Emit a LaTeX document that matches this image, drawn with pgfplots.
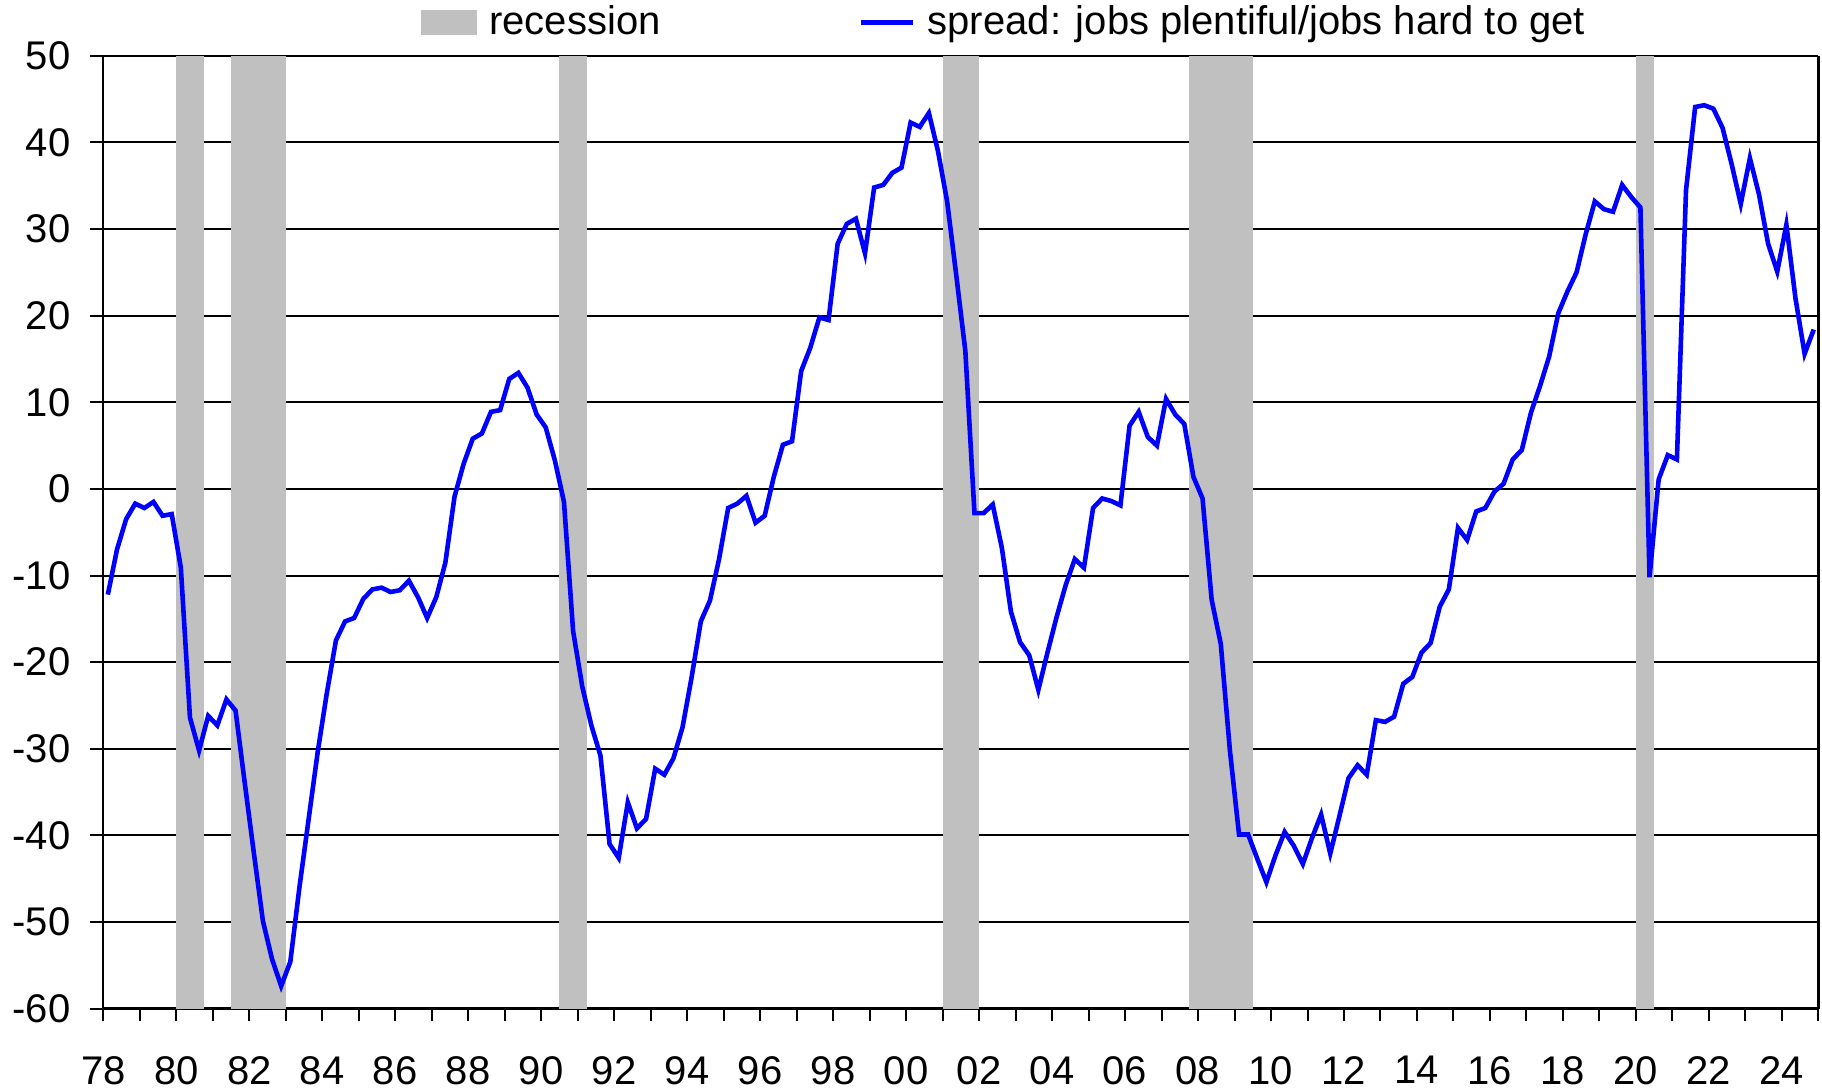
\documentclass[border=0pt]{standalone}
\usepackage{fontspec}
\setmainfont{Liberation Sans}
\usepackage{pgfplots}
\pgfplotsset{compat=1.18}
\definecolor{rec}{RGB}{192,192,192}
\begin{document}
\begin{tikzpicture}
\begin{axis}[
  name=ax,
  scale only axis,
  width=428.75pt, height=238.175pt,
  xmin=1978, xmax=2025, ymin=-60, ymax=50,
  axis x line*=bottom, axis y line*=box,
  ytick pos=left,
  tick align=outside,
  xtick={1978,1980,...,2024},
  xticklabels={78,80,82,84,86,88,90,92,94,96,98,00,02,04,06,08,10,12,14,16,18,20,22,24},
  minor xtick={1979,1981,...,2025},
  ytick={-60,-50,...,50},
  yticklabels={-60,-50,-40,-30,-20,-10,0,10,20,30,40,50},
  major tick length=3.2pt, minor tick length=3.2pt,
  ymajorgrids,
  grid style={black, line width=0.5pt},
  axis line style={black, line width=0.6pt},
  tick style={black, line width=0.5pt},
  ticklabel style={font=\fontsize{10}{12}\selectfont},
  xticklabel style={yshift=-5.2pt},
  yticklabel style={xshift=-1.5pt},
  legend columns=2,
  legend style={at={(0.185,1.035)}, anchor=west, draw=none, fill=none,
    inner sep=0pt, font=\fontsize{10}{12}\selectfont,
    nodes={inner sep=0pt},
    /tikz/every odd column/.append style={column sep=3pt},
    /tikz/every even column/.append style={column sep=49.5pt}},
]
\addplot[fill=rec, draw=none, area legend,
  legend image code/.code={\fill[rec] (0pt,-3.05pt) rectangle (14pt,3.05pt);}]
  coordinates {(1980,-60) (1980,50) (1980.75,50) (1980.75,-60)};
\addlegendentry{recession}
\addplot[fill=rec, draw=none, forget plot] coordinates {(1981.5,-60) (1981.5,50) (1983,50) (1983,-60)};
\addplot[fill=rec, draw=none, forget plot] coordinates {(1990.5,-60) (1990.5,50) (1991.25,50) (1991.25,-60)};
\addplot[fill=rec, draw=none, forget plot] coordinates {(2001,-60) (2001,50) (2002,50) (2002,-60)};
\addplot[fill=rec, draw=none, forget plot] coordinates {(2007.75,-60) (2007.75,50) (2009.5,50) (2009.5,-60)};
\addplot[fill=rec, draw=none, forget plot] coordinates {(2020,-60) (2020,50) (2020.5,50) (2020.5,-60)};
\addplot[color={rgb,255:red,0;green,0;blue,255}, line width=1.15pt,
  legend image code/.code={\draw[color={rgb,255:red,0;green,0;blue,255}, line width=1.3pt] (0pt,0pt) -- (13pt,0pt);}]
  table[x=x, y=y] {
x y
1978.125 -12.2
1978.375 -7.0
1978.625 -3.5
1978.875 -1.7
1979.125 -2.2
1979.375 -1.5
1979.625 -3.1
1979.875 -2.9
1980.125 -9.1
1980.375 -26.4
1980.625 -30.2
1980.875 -26.2
1981.125 -27.3
1981.375 -24.3
1981.625 -25.6
1981.875 -33.9
1982.125 -42.0
1982.375 -49.9
1982.625 -54.3
1982.875 -57.4
1983.125 -54.6
1983.375 -46.0
1983.625 -38.2
1983.875 -30.4
1984.125 -23.6
1984.375 -17.5
1984.625 -15.3
1984.875 -14.9
1985.125 -12.7
1985.375 -11.6
1985.625 -11.4
1985.875 -11.9
1986.125 -11.7
1986.375 -10.6
1986.625 -12.5
1986.875 -14.9
1987.125 -12.5
1987.375 -8.5
1987.625 -0.9
1987.875 2.9
1988.125 5.8
1988.375 6.4
1988.625 8.9
1988.875 9.1
1989.125 12.7
1989.375 13.4
1989.625 11.7
1989.875 8.6
1990.125 7.1
1990.375 3.3
1990.625 -1.5
1990.875 -16.4
1991.125 -22.8
1991.375 -27.3
1991.625 -30.8
1991.875 -41.0
1992.125 -42.6
1992.375 -36.2
1992.625 -39.2
1992.875 -38.1
1993.125 -32.3
1993.375 -33.0
1993.625 -31.1
1993.875 -27.5
1994.125 -21.7
1994.375 -15.3
1994.625 -12.9
1994.875 -8.1
1995.125 -2.2
1995.375 -1.7
1995.625 -0.8
1995.875 -3.9
1996.125 -3.1
1996.375 1.4
1996.625 5.1
1996.875 5.5
1997.125 13.6
1997.375 16.3
1997.625 19.8
1997.875 19.5
1998.125 28.3
1998.375 30.6
1998.625 31.2
1998.875 27.2
1999.125 34.8
1999.375 35.1
1999.625 36.5
1999.875 37.1
2000.125 42.3
2000.375 41.8
2000.625 43.4
2000.875 39.0
2001.125 33.2
2001.375 24.7
2001.625 15.9
2001.875 -2.8
2002.125 -2.8
2002.375 -1.8
2002.625 -6.8
2002.875 -14.2
2003.125 -17.7
2003.375 -19.2
2003.625 -23.2
2003.875 -18.9
2004.125 -14.8
2004.375 -11.1
2004.625 -8.1
2004.875 -9.1
2005.125 -2.2
2005.375 -1.1
2005.625 -1.4
2005.875 -1.9
2006.125 7.3
2006.375 8.9
2006.625 6.0
2006.875 5.0
2007.125 10.4
2007.375 8.6
2007.625 7.5
2007.875 1.4
2008.125 -1.1
2008.375 -12.8
2008.625 -17.9
2008.875 -30.2
2009.125 -39.9
2009.375 -39.9
2009.625 -42.7
2009.875 -45.4
2010.125 -42.3
2010.375 -39.6
2010.625 -41.2
2010.875 -43.3
2011.125 -40.3
2011.375 -37.6
2011.625 -42.1
2011.875 -37.8
2012.125 -33.4
2012.375 -31.9
2012.625 -33.0
2012.875 -26.7
2013.125 -26.9
2013.375 -26.3
2013.625 -22.5
2013.875 -21.7
2014.125 -18.9
2014.375 -17.8
2014.625 -13.6
2014.875 -11.6
2015.125 -4.5
2015.375 -5.9
2015.625 -2.6
2015.875 -2.2
2016.125 -0.3
2016.375 0.6
2016.625 3.4
2016.875 4.5
2017.125 8.8
2017.375 11.9
2017.625 15.3
2017.875 20.3
2018.125 22.8
2018.375 25.0
2018.625 29.4
2018.875 33.2
2019.125 32.3
2019.375 32.0
2019.625 35.1
2019.875 33.7
2020.125 32.5
2020.375 -10.2
2020.625 1.1
2020.875 3.9
2021.125 3.4
2021.375 34.5
2021.625 44.1
2021.875 44.3
2022.125 43.9
2022.375 41.7
2022.625 37.5
2022.875 32.9
2023.125 38.2
2023.375 34.0
2023.625 28.3
2023.875 25.1
2024.125 30.5
2024.375 22.0
2024.625 15.6
2024.875 18.4
};
\addlegendentry{spread: jobs plentiful/jobs hard to get}
\end{axis}
\pgfresetboundingbox
\path[use as bounding box] ([xshift=-25.825pt,yshift=-19.85pt]ax.south west) rectangle ([xshift=0.925pt,yshift=13.975pt]ax.north east);
\end{tikzpicture}
\end{document}
